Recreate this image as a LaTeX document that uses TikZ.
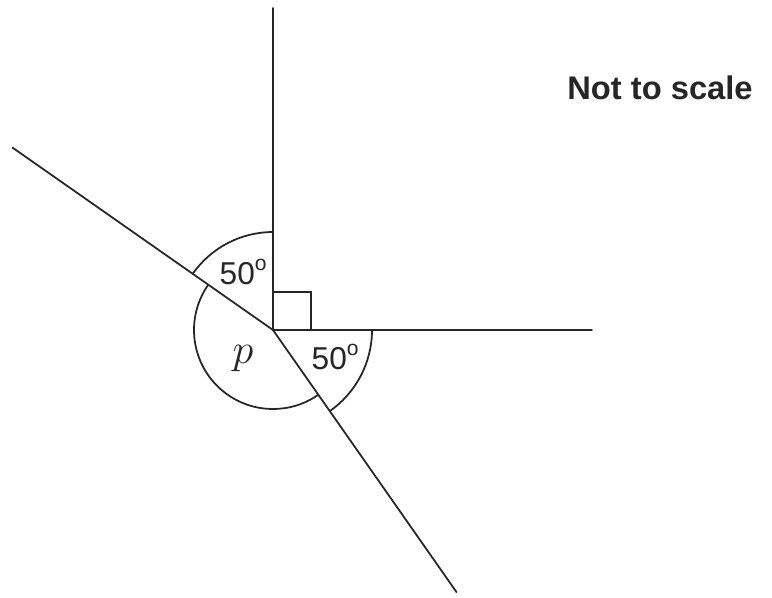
\documentclass[tikz,border=0pt]{standalone}
\usepackage{fontspec}
\setmainfont{Liberation Sans}
\usepackage{amsmath}

\begin{document}
\begin{tikzpicture}[
    line width=0.5pt,
    line cap=round,
    black!85,
    label style/.style={font=\fontsize{9}{11}\selectfont},
    note style/.style={font=\bfseries\fontsize{9.3}{11}\selectfont}
]

% --- 1. FRAME ---
\useasboundingbox (-2.73,-2.67) rectangle (4.99,3.30);

% --- 2. POINTS ---
\coordinate (O) at (0,0);
\coordinate (top) at (90:3.22);
\coordinate (right) at (0:3.19);
\coordinate (upleft) at (145:3.18);
\coordinate (downright) at (-55:3.2);

% --- 3. LINES ---
\draw (O) -- (top);
\draw (O) -- (right);
\draw (O) -- (upleft);
\draw (O) -- (downright);

% Right angle mark
\draw (O) rectangle (0.38,0.38);

% --- 4. ARCS ---
\draw ([shift={(90:0.98)}]O) arc (90:145:0.98);
\draw ([shift={(145:0.79)}]O) arc (145:305:0.79);
\draw ([shift={(0:0.99)}]O) arc (0:-55:0.99);

% --- 5. LABELS ---
\node[label style] (upangle) at (-0.29,0.58) {50\textsuperscript{o}};
\node[label style] (downangle) at (0.63,-0.27) {50\textsuperscript{o}};
\node[font=\fontsize{12}{14}\selectfont] (pangle) at (-0.30,-0.29) {$p$};

\node[note style] (note) at (3.87,2.42) {Not to scale};

\end{tikzpicture}
\end{document}
